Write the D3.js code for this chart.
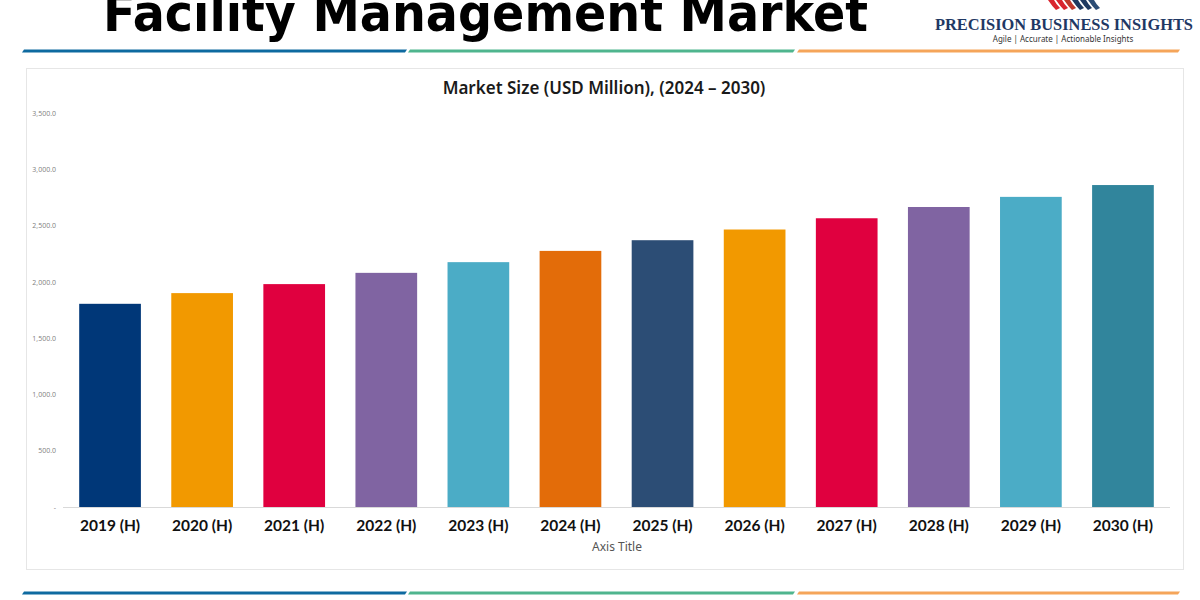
<!DOCTYPE html>
<html><head><meta charset="utf-8">
<script src="https://cdn.jsdelivr.net/npm/d3@7"></script>
<style>
body{margin:0;background:#fff;}
svg{display:block;}
</style></head>
<body>
<svg id="c" width="1200" height="600"></svg>
<script>
const categories = ["2019 (H)","2020 (H)","2021 (H)","2022 (H)","2023 (H)","2024 (H)","2025 (H)","2026 (H)","2027 (H)","2028 (H)","2029 (H)","2030 (H)"];
const values = [1805, 1900, 1980, 2080, 2175, 2275, 2370, 2465, 2565, 2665, 2755, 2860];
const barColors = ["#003778","#f29900","#e0003f","#8064a2","#4bacc6","#e36c09","#2c4d75","#f29900","#e0003f","#8064a2","#4bacc6","#31859c"];
const yTicks = [0, 500, 1000, 1500, 2000, 2500, 3000, 3500];

const svg = d3.select("#c");

// Header title
svg.append("text").attr("x", 103).attr("y", 31)
  .attr("textLength", 765).attr("lengthAdjust","spacingAndGlyphs")
  .attr("font-family","'DejaVu Sans', Lato, sans-serif").attr("font-weight","bold")
  .attr("font-size", 52).attr("fill","#000").text("Facility Management Market");

// Logo
const logo = svg.append("g");
const stripeCols = ["#d9252f","#d9252f","#c0392b","#1f3a60","#1f3a60","#2c4d75"];
stripeCols.forEach((c,i)=>{
  logo.append("path").attr("d",`M${1048+i*8},0 q4,6 8,10 l4,-2 q-4,-4 -6,-8 z`).attr("fill",c);
});
logo.append("text").attr("x",935).attr("y",30)
  .attr("textLength",258).attr("lengthAdjust","spacingAndGlyphs")
  .attr("font-family","'Liberation Serif','DejaVu Serif',serif").attr("font-weight","bold")
  .attr("font-size",17).attr("fill","#1f3864").text("PRECISION BUSINESS INSIGHTS");
logo.append("text").attr("x",1063).attr("y",42).attr("text-anchor","middle")
  .attr("font-family","'Noto Sans',sans-serif").attr("font-size",8).attr("fill","#333")
  .text("Agile | Accurate | Actionable Insights");

// Decorative lines
function decoLines(y){
  const segs = [[22,405,"#0e6aa0"],[408,793,"#4fb58e"],[797,1178,"#f5a55a"]];
  segs.forEach(([a,b,c])=>{
    svg.append("path").attr("d",`M${a+2},${y-1.5} L${b+2},${y-1.5} L${b},${y+1.5} L${a},${y+1.5} Z`).attr("fill",c);
  });
}
decoLines(51);
decoLines(593);

// Chart panel
svg.append("rect").attr("x",26.5).attr("y",68.5).attr("width",1157).attr("height",501)
  .attr("fill","#fff").attr("stroke","#e6e6e6").attr("stroke-width",1);

svg.append("text").attr("x",604).attr("y",94).attr("text-anchor","middle")
  .attr("font-family","'Noto Sans','Open Sans',sans-serif").attr("font-weight","600")
  .attr("font-size",17).attr("fill","#1a1a1a").text("Market Size (USD Million), (2024 – 2030)");

const x = d3.scaleBand().domain(categories).range([64,1169]).paddingInner(0.33).paddingOuter(0.165);
const y = d3.scaleLinear().domain([0,3500]).range([507,113]);

// y axis labels
const fmt = d3.format(",.1f");
const yAxis = d3.axisLeft(y).tickValues(yTicks).tickSize(0).tickPadding(0)
  .tickFormat(d => d === 0 ? "-" : fmt(d));
const yg = svg.append("g").attr("transform","translate(56,0)").call(yAxis);
yg.select(".domain").remove();
yg.selectAll("text").attr("font-family","'Open Sans',sans-serif").attr("font-size",7).attr("fill","#808080");

// bars
svg.append("g").selectAll("rect").data(values).join("rect")
  .attr("x",(d,i)=>x(categories[i])).attr("width",x.bandwidth())
  .attr("y",d=>y(d)).attr("height",d=>y(0)-y(d))
  .attr("fill",(d,i)=>barColors[i]);

// x axis
const xAxis = d3.axisBottom(x).tickSize(0).tickPadding(13);
const xg = svg.append("g").attr("transform",`translate(0,${y(0)})`).call(xAxis);
xg.select(".domain").attr("stroke","#d9d9d9").attr("d","M63,0.5H1170");
xg.selectAll("text").attr("font-family","Lato, 'Noto Sans', sans-serif").attr("font-weight","bold")
  .attr("font-size",15.5).attr("fill","#111");

svg.append("text").attr("x",617).attr("y",551).attr("text-anchor","middle")
  .attr("font-family","'Noto Sans',sans-serif").attr("font-size",12).attr("fill","#555").text("Axis Title");
</script>
</body></html>
